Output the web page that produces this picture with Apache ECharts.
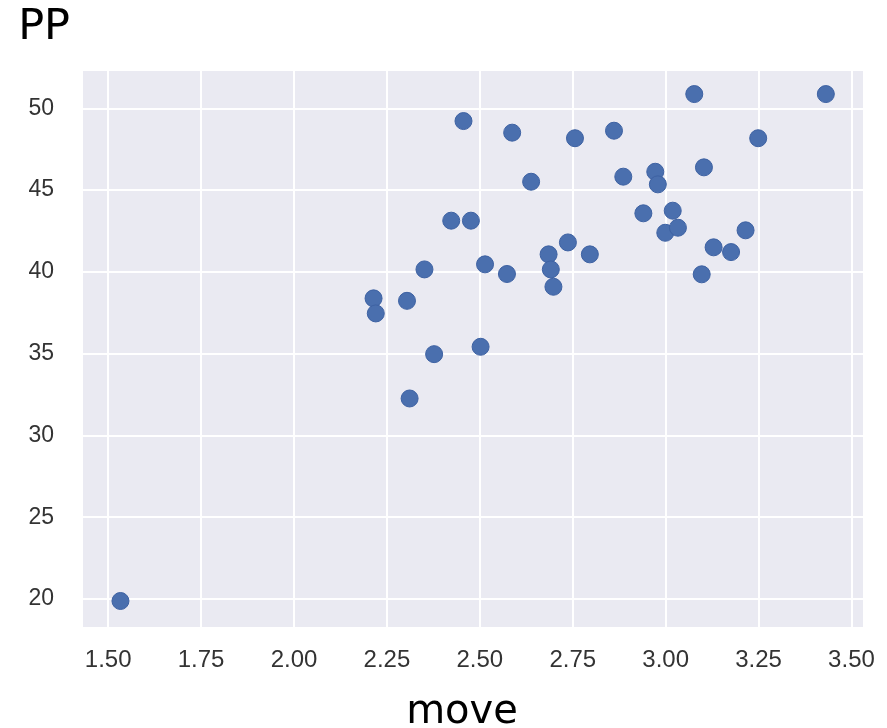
<!DOCTYPE html>
<html>
<head>
<meta charset="utf-8">
<script src="https://cdn.jsdelivr.net/npm/echarts@6/dist/echarts.min.js"></script>
<style>html,body{margin:0;padding:0;background:#fff}#c{width:887px;height:728px}</style>
</head>
<body>
<div id="c"></div>
<script>
const moveValues = [2.423, 2.476, 2.351, 2.514, 2.573, 2.685, 2.737, 2.796, 2.691, 2.698,
  2.214, 2.220, 2.304, 2.377, 2.502, 2.311,
  3.077, 3.431, 2.456, 2.587, 2.756, 2.861, 3.249, 2.638, 2.886, 2.972,
  2.979, 3.103, 2.940, 3.019, 2.999, 3.033, 3.215, 3.129, 3.176, 3.097, 1.533];
const ppValues = [43.13, 43.13, 40.15, 40.46, 39.87, 41.07, 41.80, 41.07, 40.15, 39.09,
  38.38, 37.46, 38.23, 34.97, 35.42, 32.26,
  50.87, 50.87, 49.22, 48.51, 48.17, 48.63, 48.17, 45.51, 45.82, 46.12,
  45.35, 46.39, 43.58, 43.74, 42.39, 42.70, 42.54, 41.50, 41.21, 39.85, 19.88];
const xTicks = [1.50, 1.75, 2.00, 2.25, 2.50, 2.75, 3.00, 3.25, 3.50];
const yTicks = [20, 25, 30, 35, 40, 45, 50];
const xName = 'move';
const yName = 'PP';

const points = moveValues.map((v, i) => [v, ppValues[i]]);
const chart = echarts.init(document.getElementById('c'), null, {renderer: 'canvas'});
chart.setOption({
  animation: false,
  backgroundColor: '#ffffff',
  grid: {
    left: 83, right: 24, top: 71, bottom: 101,
    containLabel: false, outerBoundsMode: 'none',
    show: true, backgroundColor: '#EAEAF2', borderWidth: 0
  },
  xAxis: {
    type: 'value',
    min: 1.4322, max: 3.531,
    name: xName,
    nameLocation: 'middle',
    nameGap: 66,
    nameTextStyle: {fontFamily: 'DejaVu Sans', fontSize: 40, color: '#000', padding: [0, 22, 0, 0]},
    axisLine: {show: false},
    axisTick: {show: false, customValues: xTicks},
    axisLabel: {
      customValues: xTicks,
      formatter: v => v.toFixed(2),
      fontFamily: 'Liberation Sans', fontSize: 24, color: '#333', margin: 21
    },
    splitLine: {show: true, lineStyle: {color: '#ffffff', width: 2}}
  },
  yAxis: {
    type: 'value',
    min: 18.29, max: 52.28,
    name: yName,
    nameLocation: 'end',
    nameGap: 22,
    nameTextStyle: {fontFamily: 'DejaVu Sans', fontSize: 43, color: '#000', align: 'right', padding: [0, 13, 0, 0]},
    axisLine: {show: false},
    axisTick: {show: false, customValues: yTicks},
    axisLabel: {
      customValues: yTicks,
      fontFamily: 'Liberation Sans', fontSize: 23, color: '#333', margin: 29
    },
    splitLine: {show: true, lineStyle: {color: '#ffffff', width: 2}}
  },
  series: [{
    type: 'scatter',
    data: points,
    symbolSize: 17,
    itemStyle: {color: '#4A6FAE', borderColor: '#3E62A3', borderWidth: 1, opacity: 1}
  }]
});
</script>
</body>
</html>
